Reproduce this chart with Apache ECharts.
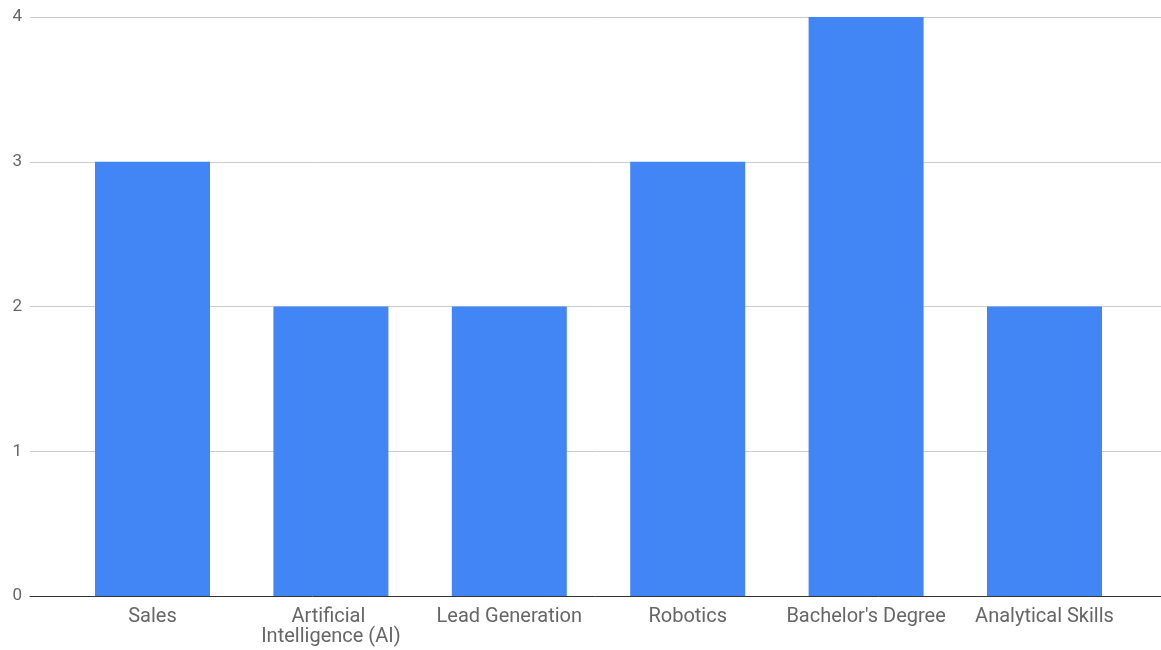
<!DOCTYPE html>
<html>
<head>
<meta charset="utf-8">
<script src="https://cdn.jsdelivr.net/npm/echarts@6/dist/echarts.min.js"></script>
<style>
  html, body { margin: 0; padding: 0; background: #fff; }
  #chart { width: 1161px; height: 650px; }
</style>
</head>
<body>
<div id="chart"></div>
<script>
// Skill counts per category
const categories = ['Sales', 'Artificial Intelligence (AI)', 'Lead Generation', 'Robotics', "Bachelor's Degree", 'Analytical Skills'];
const counts = [3, 2, 2, 3, 4, 2];
const yTicks = [0, 1, 2, 3, 4];

const yMin = yTicks[0];
const yMax = yTicks[yTicks.length - 1];
const font = 'Roboto, "Noto Sans", sans-serif';

const chart = echarts.init(document.getElementById('chart'));
chart.setOption({
  animation: false,
  backgroundColor: '#ffffff',
  grid: [
    // full-width frame: gridlines, y labels and baseline
    { left: 30, right: 0, top: 17, bottom: 54 },
    // inner band holding the bars and category labels
    { left: 63.3, right: 27.3, top: 17, bottom: 54 }
  ],
  xAxis: [
    {
      gridIndex: 0, type: 'value', min: 0, max: 1,
      axisLine: { show: true, lineStyle: { color: '#333333', width: 1 } },
      axisTick: { show: false }, axisLabel: { show: false }, splitLine: { show: false }
    },
    {
      gridIndex: 1, type: 'category', data: categories,
      axisLine: { show: false }, axisTick: { show: false },
      axisLabel: {
        interval: 0, margin: 11, color: '#666666', fontSize: 20, fontFamily: font,
        width: 176, overflow: 'break', lineHeight: 20
      }
    }
  ],
  yAxis: [
    {
      gridIndex: 0, type: 'value', min: yMin, max: yMax, interval: 1,
      axisLine: { show: false }, axisTick: { show: false },
      axisLabel: { margin: 8, color: '#666666', fontSize: 17, fontFamily: font },
      splitLine: { lineStyle: { color: '#cccccc', width: 1 } }
    },
    {
      gridIndex: 1, type: 'value', min: yMin, max: yMax, interval: 1,
      show: false
    }
  ],
  series: [
    {
      type: 'bar', xAxisIndex: 1, yAxisIndex: 1,
      data: counts, barWidth: 115,
      itemStyle: { color: '#4285f4' }
    }
  ]
});
</script>
</body>
</html>
